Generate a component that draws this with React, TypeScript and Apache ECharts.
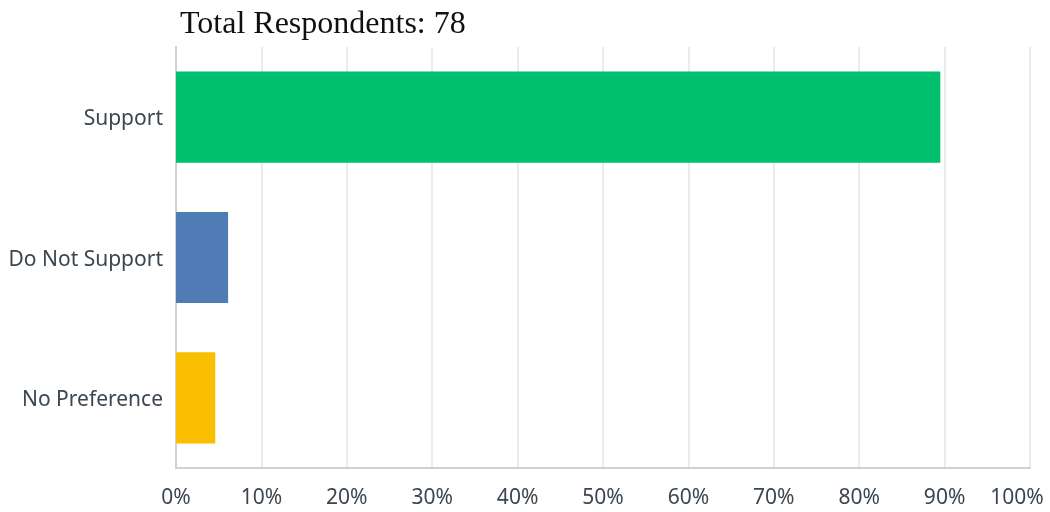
import React, { useEffect, useRef } from "react";
import * as echarts from "echarts";

const categories = ["Support", "Do Not Support", "No Preference"];
const values = [89.5, 6.1, 4.6];
const barColors = ["#00BF6F", "#507CB6", "#F9BE00"];
const xTicks = [0, 10, 20, 30, 40, 50, 60, 70, 80, 90, 100];
const titleText = "Total Respondents: 78";

export default function App() {
  const ref = useRef<HTMLDivElement>(null);
  useEffect(() => {
    const chart = echarts.init(ref.current!, null, { renderer: "svg" });
    const labelFont = {
      fontFamily: "Noto Sans",
      fontSize: 21,
      color: "#3b4650",
    };
    chart.setOption({
      animation: false,
      graphic: [
        {
          type: "text",
          left: 180,
          top: 6,
          style: {
            text: titleText,
            fontFamily: "Liberation Serif",
            fontSize: 32,
            fill: "#111",
          },
        },
      ],
      grid: {
        left: 176,
        right: 20,
        top: 47,
        bottom: 44,
        containLabel: false,
        outerBoundsMode: "none",
      },
      xAxis: {
        type: "value",
        min: 0,
        max: 100,
        interval: 10,
        axisLabel: {
          formatter: (v: number) => {
            if (!xTicks.includes(v)) return "";
            return v === xTicks[xTicks.length - 1] ? "{last|" + v + "%}" : v + "%";
          },
          ...labelFont,
          margin: 17,
          rich: {
            last: { ...labelFont, padding: [0, 26, 0, 0] },
          },
        },
        axisLine: { show: true, lineStyle: { color: "#d0d0d0", width: 2 } },
        axisTick: { show: false },
        splitLine: { show: true, lineStyle: { color: "#ebebeb", width: 2 } },
      },
      yAxis: {
        type: "category",
        data: categories,
        inverse: true,
        axisLabel: {
          ...labelFont,
          margin: 13,
        },
        axisLine: { show: true, lineStyle: { color: "#d0d0d0", width: 2 } },
        axisTick: { show: false },
      },
      series: [
        {
          type: "bar",
          barWidth: "65%",
          data: values.map((v, i) => ({ value: v, itemStyle: { color: barColors[i] } })),
        },
      ],
    });
    return () => chart.dispose();
  }, []);
  return (
    <div
      ref={ref}
      style={{ position: "fixed", left: 0, top: 0, width: 1050, height: 512 }}
    />
  );
}
